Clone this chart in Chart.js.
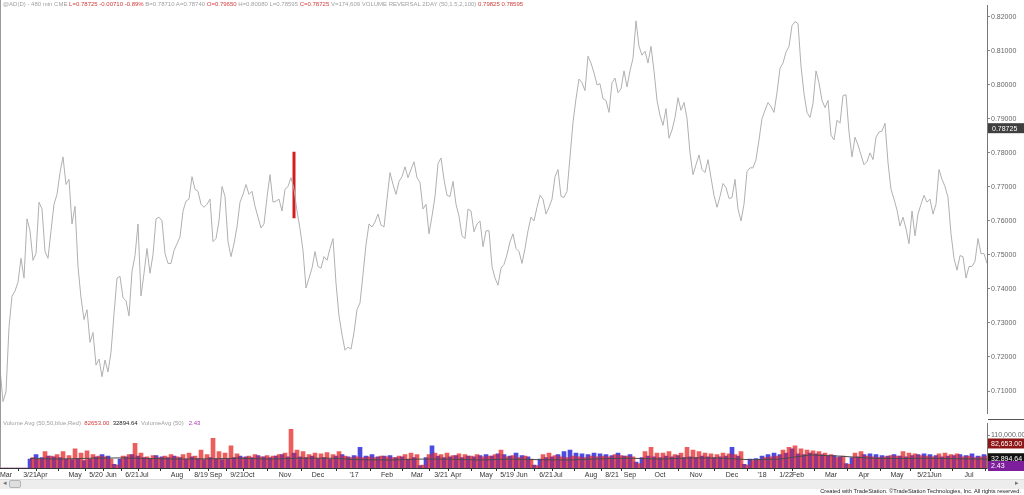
<!DOCTYPE html>
<html>
<head>
<meta charset="utf-8">
<script src="https://cdn.jsdelivr.net/npm/chart.js@4.4.1/dist/chart.umd.min.js"></script>
<style>
  body { margin: 0; background: #fff; font-family: Arial, "Liberation Sans", sans-serif; }
  #wrap { position: relative; width: 1024px; height: 495px; overflow: hidden; }
  canvas { position: absolute; left: 0; }
  .txt { position: absolute; white-space: nowrap; z-index: 2; }
  .g { color: #a0a0a0; }
  .r { color: #d23a3a; }
  .k { color: #222; }
  .m { color: #b23ab2; }
</style>
</head>
<body>
<div id="wrap">
  <div style="position:absolute;left:0;top:0;width:1px;height:468px;background:#9a9a9a;z-index:3"></div>
  <div class="txt" style="left:3px;top:1px;font-size:6px">
    <span class="g">@AD(D) - 480 min CME</span>
    <span class="r">L=0.78725 -0.00710 -0.89%</span>
    <span class="g">B=0.78710 A=0.78740</span>
    <span class="r">O=0.79650</span>
    <span class="g">H=0.80080 L=0.78595</span>
    <span class="r">C=0.78725</span>
    <span class="g">V=174,609 VOLUME REVERSAL 2DAY (50,1.5,2,100)</span>
    <span class="r">0.79825 0.78595</span>
  </div>
  <canvas id="price" width="1024" height="419" style="top:0"></canvas>
  <div class="txt" style="left:3px;top:420px;font-size:6px">
    <span class="g">Volume Avg (50,50,blue,Red)</span>&nbsp;
    <span class="r">82653.00</span>&nbsp;
    <span class="k">32894.64</span>&nbsp;
    <span class="g">VolumeAvg (50)</span>&nbsp;&nbsp;
    <span class="m">2.43</span>
  </div>
  <canvas id="vol" width="1024" height="62" style="top:418px"></canvas>
  <div style="position:absolute;left:0;top:479px;width:1024px;height:9px;background:#ededed;border-top:1px solid #dcdcdc"></div>
  <div class="txt" style="left:3px;top:479px;font-size:7px;color:#777">&#9666;</div>
  <div style="position:absolute;left:9px;top:480px;width:10px;height:6px;background:#dedede;border:1px solid #b5b5b5;border-radius:2px"></div>
  <div class="txt" style="left:1015px;top:479px;font-size:7px;color:#777">&#9656;</div>
  <div class="txt k" style="right:3px;top:488px;font-size:5.7px">Created with TradeStation. &copy;TradeStation Technologies, Inc. All rights reserved.</div>
</div>
<script>
// Price series, one value every 3 chart px (index 0..329), Mar 2016 .. Jul 2018
const prices = [
  0.7165,0.7069,0.7098,0.7287,0.7379,0.7394,0.7420,0.7490,0.7432,0.7606,
  0.7571,0.7484,0.7504,0.7655,0.7635,0.7510,0.7490,0.7571,0.7649,0.7678,
  0.7742,0.7788,0.7707,0.7722,0.7591,0.7643,0.7466,0.7374,0.7310,0.7339,
  0.7243,0.7272,0.7176,0.7194,0.7142,0.7191,0.7156,0.7214,0.7327,0.7432,
  0.7437,0.7374,0.7365,0.7321,0.7452,0.7498,0.7591,0.7379,0.7446,0.7519,
  0.7446,0.7501,0.7606,0.7611,0.7600,0.7504,0.7475,0.7475,0.7513,0.7533,
  0.7553,0.7629,0.7658,0.7664,0.7730,0.7693,0.7687,0.7649,0.7640,0.7649,
  0.7664,0.7539,0.7548,0.7600,0.7701,0.7672,0.7539,0.7495,0.7533,0.7582,
  0.7655,0.7678,0.7707,0.7678,0.7687,0.7643,0.7611,0.7579,0.7591,0.7669,
  0.7736,0.7655,0.7658,0.7664,0.7629,0.7693,0.7701,0.7727,0.7693,0.7629,
  0.7577,0.7513,0.7403,0.7432,0.7461,0.7510,0.7466,0.7461,0.7495,0.7484,
  0.7519,0.7548,0.7417,0.7321,0.7266,0.7220,0.7229,0.7223,0.7272,0.7339,
  0.7359,0.7443,0.7530,0.7591,0.7582,0.7597,0.7620,0.7588,0.7582,0.7664,
  0.7742,0.7707,0.7678,0.7716,0.7730,0.7759,0.7727,0.7751,0.7774,0.7727,
  0.7713,0.7635,0.7649,0.7562,0.7614,0.7672,0.7768,0.7785,0.7722,0.7675,
  0.7672,0.7716,0.7649,0.7614,0.7556,0.7548,0.7635,0.7629,0.7568,0.7591,
  0.7600,0.7524,0.7571,0.7571,0.7466,0.7432,0.7411,0.7461,0.7472,0.7501,
  0.7539,0.7562,0.7519,0.7510,0.7475,0.7519,0.7571,0.7611,0.7600,0.7640,
  0.7675,0.7664,0.7620,0.7640,0.7664,0.7730,0.7751,0.7672,0.7669,0.7687,
  0.7788,0.7890,0.7959,0.8017,0.8006,0.7983,0.8084,0.8064,0.8035,0.8000,
  0.8003,0.7959,0.7954,0.7919,0.8006,0.8020,0.7977,0.7988,0.8041,0.7994,
  0.8041,0.8078,0.8188,0.8113,0.8087,0.8099,0.8064,0.8113,0.8041,0.7954,
  0.7910,0.7881,0.7930,0.7843,0.7867,0.7904,0.7962,0.7925,0.7948,0.7901,
  0.7800,0.7736,0.7765,0.7794,0.7751,0.7742,0.7780,0.7727,0.7675,0.7640,
  0.7672,0.7710,0.7698,0.7666,0.7669,0.7722,0.7635,0.7600,0.7649,0.7745,
  0.7756,0.7756,0.7780,0.7838,0.7901,0.7925,0.7948,0.7936,0.7919,0.7977,
  0.8049,0.8064,0.8096,0.8113,0.8174,0.8186,0.8180,0.8055,0.7974,0.7919,
  0.7904,0.7945,0.8041,0.8006,0.7954,0.7933,0.7954,0.7852,0.7838,0.7896,
  0.7887,0.7968,0.7971,0.7861,0.7788,0.7846,0.7823,0.7794,0.7765,0.7774,
  0.7800,0.7780,0.7846,0.7861,0.7864,0.7887,0.7771,0.7693,0.7664,0.7632,
  0.7585,0.7611,0.7577,0.7533,0.7629,0.7556,0.7620,0.7649,0.7675,0.7655,
  0.7664,0.7620,0.7649,0.7751,0.7722,0.7701,0.7669,0.7562,0.7490,0.7455,
  0.7498,0.7495,0.7432,0.7466,0.7466,0.7481,0.7548,0.7504,0.7504,0.7475
];

// volume reversal signal bar
const signalIdx = [98];
const signalHigh = [0.7803];
const signalLow = [0.7608];

const lastPrice = 0.78725;
const priceTicks = [0.71, 0.72, 0.73, 0.74, 0.75, 0.76, 0.77, 0.78, 0.79, 0.80, 0.81, 0.82];

// x axis labels (index in the price series)
const tickIdx = [2,10,14,25,32,37,44,48,59,67,72,79,83,95,106,118,129,139,147,152,
  162,169,174,182,186,197,204,210,220,232,244,254,262,266,277,288,299,308,312,323];
const tickText = ['Mar','3/21','Apr','May','5/20','Jun','6/21','Jul','Aug','8/19',
  'Sep','9/21','Oct','Nov','Dec',"'17",'Feb','Mar','3/21','Apr',
  'May','5/19','Jun','6/21','Jul','Aug','8/21','Sep','Oct','Nov',
  'Dec',"'18",'1/22','Feb','Mar','Apr','May','5/21','Jun','Jul'];

// volume in thousands, one bar every 2 index steps
const volBlue = [
  0,0,0,0,0,30,45,35,40,38,
  35,30,28,32,25,30,38,45,40,12,
  30,38,45,40,35,30,42,38,35,40,
  35,30,38,32,28,35,30,28,32,35,
  40,38,35,42,38,35,40,45,38,50,
  38,35,40,32,35,30,40,45,38,42,
  70,40,45,38,40,42,35,38,30,35,
  8,35,75,40,35,38,42,35,40,38,
  42,45,40,48,45,40,50,42,38,10,
  30,35,38,45,55,60,50,48,45,50,
  48,45,42,50,40,45,20,35,40,38,
  35,40,38,42,35,38,35,40,38,35,
  38,40,70,40,12,30,32,40,45,50,
  45,50,65,48,45,50,48,45,40,42,
  38,15,35,38,45,48,45,42,40,45,
  40,38,42,45,48,45,42,38,40,42,
  45,42,48,40,45
];
const volRed = [
  0,0,0,0,0,35,30,55,40,45,
  55,42,65,50,58,45,40,38,30,10,
  40,45,83,50,38,42,35,40,45,38,
  45,50,40,60,45,100,55,50,75,48,
  35,40,45,38,42,40,45,50,130,60,
  55,45,50,48,52,45,55,40,35,38,
  35,38,35,40,38,35,40,45,50,45,
  10,45,50,45,50,42,48,45,40,45,
  38,40,45,60,38,42,35,40,30,8,
  45,50,42,38,35,40,38,35,40,38,
  40,38,45,42,40,38,15,55,70,50,
  50,55,45,50,70,60,55,50,48,45,
  50,48,45,55,10,25,28,35,38,40,
  60,70,75,65,60,58,55,50,45,35,
  40,12,50,55,40,38,35,38,42,40,
  55,50,48,42,40,38,48,50,45,48,
  38,40,35,38,40
];
const avgIdx = [10,20,30,40,50,60,70,80,90,100,110,120,130,140,150,160,170,180,190,200,
  210,220,230,240,250,260,270,280,290,300,310,320,329];
const volAvg = [32,30,33,34,32,30,31,33,30,33,33,28,27,30,30,27,30,28,27,31,
  33,30,34,33,28,30,44,40,33,32,33,31,30];

const volTag = 82653.00;
const avgTag = 32894.64;
const ratioTag = '2.43';

const FONT = { family: 'Arial, "Liberation Sans", sans-serif', size: 7 };
const AXIS_W = 37;

// boxes on the right price axis
const priceBox = {
  id: 'priceBox',
  afterDraw(chart) {
    const c = chart.ctx, y = chart.scales.y.getPixelForValue(lastPrice);
    const x0 = chart.chartArea.right + 1;
    c.save();
    c.fillStyle = '#3f3f3f';
    c.fillRect(x0, y - 5, 1024 - x0, 10);
    c.fillStyle = '#fff';
    c.font = '7px Arial';
    c.textBaseline = 'middle';
    c.fillText(lastPrice.toFixed(5), x0 + 4, y + 0.5);
    c.restore();
  }
};

const volBoxes = {
  id: 'volBoxes',
  afterDraw(chart) {
    const c = chart.ctx, a = chart.chartArea, s = chart.scales.y;
    const x0 = a.right + 1;
    const box = (y, bg, label) => {
      c.fillStyle = bg;
      c.fillRect(x0, y - 5, 1024 - x0, 10);
      c.fillStyle = '#fff';
      c.fillText(label, x0 + 3, y + 0.5);
    };
    c.save();
    c.font = '7px Arial';
    c.textBaseline = 'middle';
    c.strokeStyle = '#555';
    c.beginPath();
    c.moveTo(x0, 1.5);
    c.lineTo(1024, 1.5);
    c.stroke();
    box(s.getPixelForValue(volTag), '#8e1616', volTag.toLocaleString('en-US', { minimumFractionDigits: 2 }));
    box(s.getPixelForValue(avgTag), '#111', avgTag.toLocaleString('en-US', { minimumFractionDigits: 2 }));
    box(a.bottom - 2, '#7d1f9c', ratioTag);
    c.restore();
  }
};

new Chart(document.getElementById('price'), {
  type: 'line',
  data: {
    datasets: [
      {
        data: prices.map((p, i) => ({ x: i, y: p })),
        borderColor: '#b0b0b0',
        borderWidth: 1,
        pointRadius: 0,
        tension: 0
      },
      {
        data: signalIdx.flatMap((ix, k) => [{ x: ix, y: signalHigh[k] }, { x: ix, y: signalLow[k] }]),
        borderColor: '#d21e1e',
        borderWidth: 3,
        pointRadius: 0
      }
    ]
  },
  options: {
    responsive: false,
    animation: false,
    layout: { padding: { top: 3, bottom: 2, left: 0, right: 0 } },
    plugins: { legend: { display: false }, tooltip: { enabled: false } },
    scales: {
      x: { type: 'linear', min: 0, max: 329, display: false },
      y: {
        position: 'right',
        min: 0.7033,
        max: 0.8234,
        afterBuildTicks: s => { s.ticks = priceTicks.map(v => ({ value: v })); },
        afterFit: s => { s.width = AXIS_W; },
        ticks: { callback: v => v.toFixed(5), font: FONT, color: '#666', padding: 1 },
        grid: { drawOnChartArea: false, drawTicks: true, tickLength: 3, color: '#888' },
        border: { display: true, color: '#777' }
      }
    }
  },
  plugins: [priceBox]
});

new Chart(document.getElementById('vol'), {
  type: 'bar',
  data: {
    datasets: [
      {
        type: 'line',
        data: avgIdx.map((ix, k) => ({ x: ix, y: volAvg[k] * 1000 })),
        borderColor: '#4a4a4a',
        borderWidth: 1,
        pointRadius: 0,
        order: 0
      },
      {
        data: volBlue.map((v, j) => ({ x: j * 2, y: v * 1000 })),
        backgroundColor: 'rgba(30,30,215,0.8)',
        barThickness: 4,
        grouped: false,
        order: 2
      },
      {
        data: volRed.map((v, j) => ({ x: j * 2 + 1, y: v * 1000 })),
        backgroundColor: 'rgba(228,30,30,0.72)',
        barThickness: 4,
        grouped: false,
        order: 1
      }
    ]
  },
  options: {
    responsive: false,
    animation: false,
    layout: { padding: { top: 2, bottom: 0, left: 0, right: 0 } },
    plugins: { legend: { display: false }, tooltip: { enabled: false } },
    scales: {
      x: {
        type: 'linear',
        min: 0,
        max: 329,
        offset: false,
        afterBuildTicks: s => { s.ticks = tickIdx.map(v => ({ value: v })); },
        afterFit: s => { s.height = 12; },
        ticks: {
          callback: v => tickText[tickIdx.indexOf(v)],
          autoSkip: false,
          maxRotation: 0,
          font: FONT,
          color: '#333',
          padding: 0
        },
        grid: { drawOnChartArea: false, drawTicks: true, tickLength: 3, color: '#333' },
        border: { display: true, color: '#333' }
      },
      y: {
        position: 'right',
        min: 0,
        max: 151000,
        afterBuildTicks: s => { s.ticks = [{ value: 110000 }]; },
        afterFit: s => { s.width = AXIS_W; },
        ticks: { callback: () => '110,000.00', font: FONT, color: '#666', padding: 1 },
        grid: { drawOnChartArea: false, drawTicks: true, tickLength: 3, color: '#888' },
        border: { display: true, color: '#777' }
      }
    }
  },
  plugins: [volBoxes]
});
</script>
</body>
</html>
